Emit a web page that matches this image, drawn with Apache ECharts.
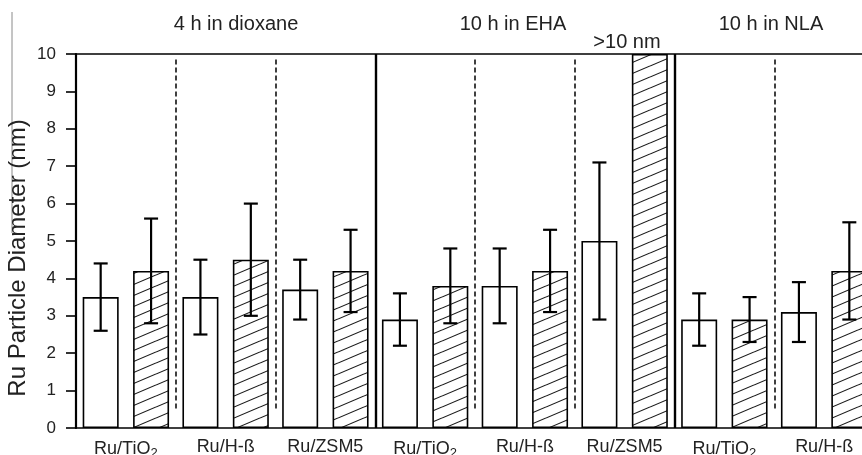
<!DOCTYPE html>
<html>
<head>
<meta charset="utf-8">
<script src="https://cdn.jsdelivr.net/npm/echarts@6/dist/echarts.min.js"></script>
<style>
  html, body { margin: 0; padding: 0; background: #fff; }
  #chart { width: 862px; height: 455px; }
</style>
</head>
<body>
<div id="chart"></div>
<script>
const categories = ['Ru/TiO2', 'Ru/H-ß', 'Ru/ZSM5', 'Ru/TiO2', 'Ru/H-ß', 'Ru/ZSM5', 'Ru/TiO2', 'Ru/H-ß']

// open bars and their error ranges
const openValues = [3.5, 3.5, 3.7, 2.9, 3.8, 5.0, 2.9, 3.1]
const openLow = [2.6, 2.5, 2.9, 2.2, 2.8, 2.9, 2.2, 2.3]
const openHigh = [4.4, 4.5, 4.5, 3.6, 4.8, 7.1, 3.6, 3.9]

// hatched bars (Ru/ZSM5 in EHA is >10 nm, drawn up to the axis max)
const hatchValues = [4.2, 4.5, 4.2, 3.8, 4.2, 10, 2.9, 4.2]
const hatchLow = [2.8, 3.0, 3.1, 2.8, 3.1, null, 2.3, 2.9]
const hatchHigh = [5.6, 6.0, 5.3, 4.8, 5.3, null, 3.5, 5.5]

const yTicks = [0, 10, 1] // min, max, interval

const sections = ['4 h in dioxane', '10 h in EHA', '10 h in NLA']
const dashedAt = [1, 2, 4, 5, 7]
const solidAt = [3, 6]

const FONT = 'Liberation Sans, Arial, sans-serif'
const BAR_W = 36
const BAR_GAP = 0.4
const OFFSET = (BAR_W + BAR_W * BAR_GAP) / 2

function hatchPattern() {
  const w = 26, h = 11
  const c = document.createElement('canvas')
  c.width = w
  c.height = h
  const ctx = c.getContext('2d')
  ctx.fillStyle = '#fff'
  ctx.fillRect(0, 0, w, h)
  ctx.strokeStyle = '#1a1a1a'
  ctx.lineWidth = 1.1
  ;[-h, 0, h].forEach(dy => {
    ctx.beginPath()
    ctx.moveTo(0, h + dy)
    ctx.lineTo(w, dy)
    ctx.stroke()
  })
  return c
}

function errorSeries(low, high, sign) {
  const data = []
  low.forEach((lo, i) => {
    if (lo != null) data.push([i, lo, high[i]])
  })
  return {
    type: 'custom',
    silent: true,
    z: 5,
    data: data,
    encode: { x: 0, y: [1, 2] },
    renderItem: (params, api) => {
      const a = api.coord([api.value(0), api.value(1)])
      const b = api.coord([api.value(0), api.value(2)])
      const x = a[0] + sign * OFFSET
      const cap = 7
      const style = { stroke: '#000', lineWidth: 2.2 }
      return {
        type: 'group',
        children: [
          { type: 'line', shape: { x1: x, y1: a[1], x2: x, y2: b[1] }, style },
          { type: 'line', shape: { x1: x - cap, y1: a[1], x2: x + cap, y2: a[1] }, style },
          { type: 'line', shape: { x1: x - cap, y1: b[1], x2: x + cap, y2: b[1] }, style },
        ],
      }
    },
  }
}

const separatorLines = [
  ...dashedAt.map(x => [
    { coord: [x, 9.85], lineStyle: { type: [5, 3], width: 1.6, color: '#111' } },
    { coord: [x, 0.45] },
  ]),
  ...solidAt.map(x => [
    { coord: [x, 10], lineStyle: { type: 'solid', width: 2.4, color: '#000' } },
    { coord: [x, 0] },
  ]),
]

const chart = echarts.init(document.getElementById('chart'))

chart.setOption({
  animation: false,
  textStyle: { fontFamily: FONT, color: '#222' },
  title: [
    { text: sections[0], left: 231, top: 9, textAlign: 'center' },
    { text: sections[1], left: 508, top: 9, textAlign: 'center' },
    { text: sections[2], left: 766, top: 9, textAlign: 'center' },
    { text: '>10 nm', left: 622, top: 27, textAlign: 'center' },
  ].map(t => ({ ...t, textStyle: { fontFamily: FONT, fontSize: 20, fontWeight: 'normal', color: '#222' } })),
  graphic: [
    { type: 'line', shape: { x1: 12, y1: 12, x2: 12, y2: 233 }, style: { stroke: '#8a8a8a', lineWidth: 1 } },
    {
      type: 'text',
      x: 18,
      y: 258,
      rotation: Math.PI / 2,
      style: {
        text: 'Ru Particle Diameter (nm)',
        fontFamily: FONT,
        fontSize: 24,
        fill: '#222',
        align: 'center',
        verticalAlign: 'middle',
      },
    },
  ],
  grid: { left: 76, top: 54, width: 798, height: 374, outerBoundsMode: 'none' },
  xAxis: [
    {
      type: 'category',
      data: categories,
      axisLine: { lineStyle: { color: '#000', width: 1.6 } },
      axisTick: { show: false },
      axisLabel: {
        margin: 10,
        interval: 0,
        formatter: v => v.endsWith('TiO2') ? '{n|Ru/TiO}{s|2}' : '{n|' + v + '}',
        rich: {
          n: { fontFamily: FONT, fontSize: 18, color: '#222' },
          s: { fontFamily: FONT, fontSize: 13, color: '#222', padding: [9, 0, 0, 0] },
        },
      },
    },
    {
      type: 'value',
      min: 0,
      max: categories.length,
      position: 'top',
      axisLine: { show: true, lineStyle: { color: '#000', width: 1.6 } },
      axisTick: { show: false },
      axisLabel: { show: false },
      splitLine: { show: false },
    },
  ],
  yAxis: {
    type: 'value',
    min: yTicks[0],
    max: yTicks[1],
    interval: yTicks[2],
    axisLine: { show: true, lineStyle: { color: '#000', width: 2.2 } },
    axisTick: { show: true, length: 10, lineStyle: { color: '#000', width: 1.6 } },
    axisLabel: { fontFamily: FONT, fontSize: 17, color: '#222', margin: 20 },
    splitLine: { show: false },
  },
  series: [
    {
      type: 'bar',
      data: openValues,
      barWidth: BAR_W,
      barGap: BAR_GAP * 100 + '%',
      itemStyle: { color: '#fff', borderColor: '#000', borderWidth: 1.6 },
    },
    {
      type: 'bar',
      data: hatchValues,
      barWidth: BAR_W,
      itemStyle: { color: { image: hatchPattern(), repeat: 'repeat' }, borderColor: '#000', borderWidth: 1.6 },
    },
    errorSeries(openLow, openHigh, -1),
    errorSeries(hatchLow, hatchHigh, 1),
    {
      type: 'line',
      xAxisIndex: 1,
      data: [],
      silent: true,
      markLine: { symbol: 'none', silent: true, label: { show: false }, data: separatorLines },
    },
  ],
})
</script>
</body>
</html>
